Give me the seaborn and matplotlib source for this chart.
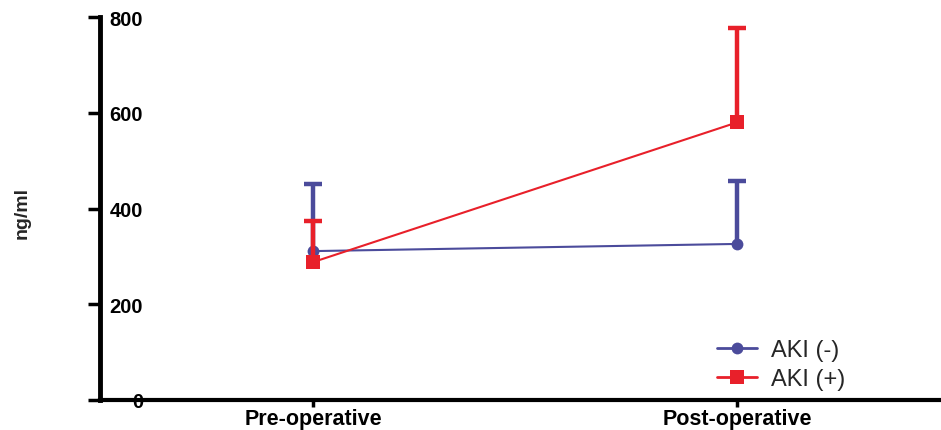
import matplotlib
matplotlib.use("Agg")
import matplotlib.pyplot as plt
import seaborn as sns
import pandas as pd
from matplotlib.lines import Line2D

# Mean concentration and SEM at each time point
timepoints = ["Pre-operative", "Post-operative"]
groups = ["AKI (-)", "AKI (+)"]
mean_aki_neg = [311, 326]
sem_aki_neg = [140, 131]
mean_aki_pos = [288, 580]
sem_aki_pos = [86, 196]
y_ticks = [0, 200, 400, 600, 800]

df = pd.DataFrame({
    "time": timepoints * 2,
    "pos": [0, 1, 0, 1],
    "group": [groups[0]] * 2 + [groups[1]] * 2,
    "value": mean_aki_neg + mean_aki_pos,
    "sem": sem_aki_neg + sem_aki_pos,
})

sns.set_style("white")
plt.rcParams["font.family"] = ["Liberation Sans", "DejaVu Sans"]

palette = {groups[0]: "#4b4b9b", groups[1]: "#e8202a"}
markers = {groups[0]: "o", groups[1]: "s"}
msizes = {groups[0]: 8.5, groups[1]: 10.5}

fig = plt.figure(figsize=(9.41, 4.31), dpi=100)
ax = fig.add_axes([100 / 941, 30 / 431, 841 / 941, 383 / 431])

# Upper-only error bars with flat caps
for g in groups:
    sub = df[df.group == g]
    z = 2 if g == groups[0] else 4
    ax.vlines(sub.pos, sub.value, sub.value + sub["sem"], color=palette[g],
              lw=3.2, zorder=z)
    ax.plot(sub.pos, sub.value + sub["sem"], ls="none", marker="_", ms=13.5,
            mew=3.2, color=palette[g], zorder=z)

sns.lineplot(data=df, x="pos", y="value", hue="group", style="group",
             palette=palette, markers=markers, dashes=False, lw=1.5,
             markersize=10, markeredgewidth=0, ax=ax, legend=False)
for line, g in zip(ax.lines[-2:], groups):
    line.set_markersize(msizes[g])
    line.set_zorder(3 if g == groups[0] else 5)

ax.set_xlim(-0.502, 1.48)
ax.set_ylim(0, 800)
ax.set_xticks([0, 1])
ax.set_xticklabels(timepoints, fontsize=15.5, fontweight="bold")
ax.set_yticks(y_ticks)
ax.set_yticklabels([str(t) for t in y_ticks], fontsize=14.5, fontweight="bold")
ax.set_xlabel("")
ax.set_ylabel("ng/ml", fontsize=14, fontweight="bold")
ax.yaxis.set_label_coords(-0.082, 0.49)

for side in ["top", "right"]:
    ax.spines[side].set_visible(False)
ax.spines["left"].set_linewidth(3.5)
ax.spines["bottom"].set_linewidth(3)
ax.spines["left"].set_color("black")
ax.spines["bottom"].set_color("black")

ax.tick_params(axis="y", direction="out", length=9, width=2.5, colors="black",
               left=True, pad=-40)
ax.tick_params(axis="x", direction="out", length=5, width=2.5, colors="black",
               bottom=True, pad=1)

handles = [Line2D([], [], color=palette[g], marker=markers[g], lw=2,
                  ms=msizes[g], mew=0) for g in groups]
ax.legend(handles, groups, loc="upper left", bbox_to_anchor=(705 / 941, 1 - 328 / 431),
          bbox_transform=fig.transFigure, frameon=False, fontsize=17,
          handlelength=1.7, handletextpad=0.6, labelspacing=0.3, borderpad=0)

fig.savefig("out.png", dpi=100)
